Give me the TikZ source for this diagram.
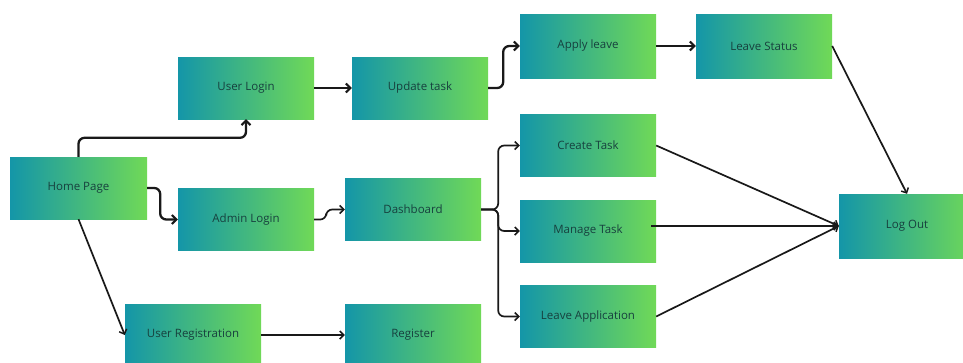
\documentclass[tikz,border=0pt]{standalone}
\usepackage{fontspec}
\setmainfont{Open Sans}
\usetikzlibrary{arrows.meta}
\definecolor{teal1}{HTML}{1496A8}
\definecolor{green1}{HTML}{70D957}
\definecolor{txt}{HTML}{17403E}
\tikzset{
  box/.style={rectangle, left color=teal1, right color=green1, draw=none,
    minimum width=136pt, minimum height=62pt, inner sep=0pt,
    font=\fontsize{11.5}{13}\selectfont, text=txt},
  thickarrow/.style={line width=2.3pt, draw=black!90, rounded corners=6pt,
    -{Straight Barb[length=4.5pt,width=9pt,line width=2pt]}},
  thinarrow/.style={line width=1.7pt, draw=black!90, rounded corners=6pt,
    -{Straight Barb[length=4pt,width=8pt,line width=1.5pt]}}
}
\begin{document}
\begin{tikzpicture}[x=1pt,y=-1pt]
\useasboundingbox (0,0) rectangle (963,362);
\node[box, minimum width=137pt] (home) at (78.5,188) {Home Page};
\node[box] (ulogin) at (246,88) {User Login};
\node[box] (alogin) at (246,219.5) {Admin Login};
\node[box] (ureg) at (193,335) {User Registration};
\node[box] (update) at (420,88) {Update task};
\node[box, minimum height=64pt] (apply) at (588,46) {Apply leave};
\node[box] (create) at (588,145.5) {Create Task};
\node[box] (dash) at (413,209.5) {Dashboard};
\node[box] (manage) at (588,231) {Manage Task};
\node[box] (leaveapp) at (588,316.5) {Leave Application};
\node[box] (register) at (413,335) {Register};
\node[box, minimum height=64pt] (status) at (764,46) {Leave Status};
\node[box, minimum height=64pt] (logout) at (907,226) {Log Out};

\draw[thickarrow] (home.north) -- ++(0,-19) -| (ulogin.south);
\draw[thickarrow] (home.east) -- ++(13,0) |- (alogin.west);
\draw[thinarrow] (home.south) -- (ureg.west);
\draw[thickarrow] (ulogin.east) -- (update.west);
\draw[thickarrow] (update.east) -- ++(15,0) |- (apply.west);
\draw[thickarrow] (apply.east) -- (status.west);
\draw[thinarrow] (alogin.east) -- ++(12,0) |- (dash.west);
\draw[thinarrow] (dash.east) -- ++(17,0) |- (create.west);
\draw[thinarrow] (dash.east) -- ++(17,0) |- (manage.west);
\draw[thinarrow] (dash.east) -- ++(17,0) |- (leaveapp.west);
\draw[thinarrow] (status.east) -- (logout.north);
\draw[thinarrow] (create.east) -- (logout.west);
\draw[thinarrow] ([xshift=-5pt]manage.east |- logout.west) -- (logout.west);
\draw[thinarrow] (leaveapp.east) -- (logout.west);
\draw[thinarrow] (ureg.east) -- (register.west);
\end{tikzpicture}
\end{document}
